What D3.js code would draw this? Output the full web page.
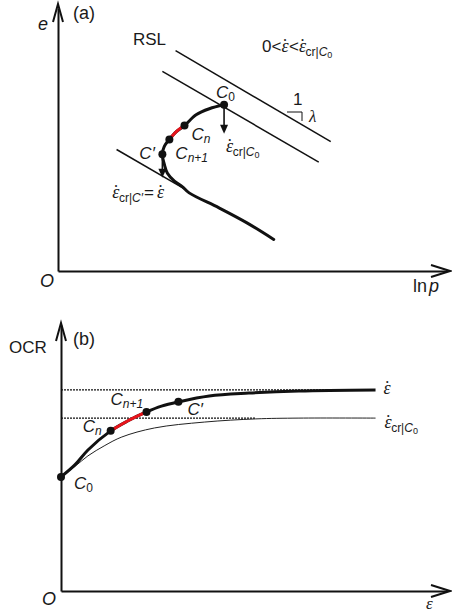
<!DOCTYPE html>
<html>
<head>
<meta charset="utf-8">
<script src="https://cdn.jsdelivr.net/npm/d3@7"></script>
<style>
  html, body { margin: 0; padding: 0; background: #fff; }
  svg { display: block; }
  text { font-family: "Liberation Sans", Arial, sans-serif; fill: #1a1a1a; }
</style>
</head>
<body>
<svg id="chart" width="452" height="614"></svg>
<script>
// ---------- Panel (a): e – ln p plane ----------
// Reference state lines (parallel, slope -λ), as [ln p, e] end points
const rslLines = [
  [[3.03, 8.38], [7.03, 4.92]],
  [[2.69, 7.59], [6.72, 4.14]],
  [[1.51, 4.62], [3.26, 3.12]]
];
// Stress path C0 -> Cn -> Cn+1 -> C' -> further compression
const pathA = [
  [4.28, 6.32], [3.90, 6.17], [3.56, 5.94], [3.26, 5.53],
  [3.05, 5.30], [2.87, 5.00], [2.74, 4.74], [2.69, 4.44],
  [2.74, 4.06], [2.82, 3.72], [3.00, 3.42], [3.21, 3.20],
  [3.38, 2.97], [4.15, 2.40], [4.87, 1.83], [5.56, 1.20]
];
const segRedA = [[3.26, 5.53], [3.05, 5.30], [2.87, 5.00]];
const pointsA = { C0: [4.28, 6.32], Cn: [3.26, 5.53], Cn1: [2.87, 5.00], Cp: [2.69, 4.44] };
// Rate arrows: start and end e values
const arrowsA = [
  { x: 4.28, from: 6.32, to: 5.22 },
  { x: 2.69, from: 4.44, to: 3.55 }
];

// ---------- Panel (b): OCR – ε plane ----------
const ocrRate = 7.56;   // asymptote for applied rate
const ocrCr = 6.50;     // asymptote for critical rate at C0
const ocrRateEnd = 8.17;
const ocrCrDashEnd = 5.06;
const pathB = [
  [0, 4.29], [0.36, 4.74], [0.70, 5.30], [1.29, 6.02], [1.73, 6.39],
  [2.22, 6.73], [2.61, 6.95], [3.05, 7.11], [3.85, 7.33], [4.88, 7.44],
  [6.18, 7.52], [8.17, 7.56]
];
const segRedB = [[1.29, 6.02], [1.73, 6.39], [2.22, 6.73]];
const thinB = [
  [0, 4.29], [0.36, 4.68], [0.70, 5.08], [1.14, 5.47], [1.58, 5.79],
  [2.43, 6.13], [3.72, 6.35], [5.06, 6.47], [6.18, 6.50], [8.17, 6.50]
];
const pointsB = { C0: [0, 4.29], Cn: [1.29, 6.02], Cn1: [2.22, 6.73], Cp: [3.05, 7.11] };

const svg = d3.select("#chart");
const SERIF = "'Liberation Serif', 'DejaVu Serif', serif";

// text with tspans: {t, i (italic), f (family), s (size), dy, dx}
function rich(g, x, y, parts, size = 17, anchor = "start") {
  const t = g.append("text").attr("x", x).attr("y", y)
    .attr("font-size", size).attr("text-anchor", anchor);
  parts.forEach(p => {
    const s = t.append("tspan").text(p.t);
    if (p.i) s.attr("font-style", "italic");
    if (p.f) s.attr("font-family", p.f);
    if (p.s) s.attr("font-size", p.s);
    if (p.dy) s.attr("dy", p.dy);
    if (p.dx) s.attr("dx", p.dx);
  });
  return t;
}
// strain rate symbol: italic epsilon with an overdot
const epsDot = (dx) => [
  { t: "\u03B5", i: true, f: SERIF, s: 18, dx: dx || 0 },
  { t: "\u02D9", f: SERIF, s: 18, dx: -6.5 }
];
const epsCr = () => epsDot().concat([
  { t: "cr|", s: 12, dy: 4 },
  { t: "C", i: true, s: 12 },
  { t: "0", s: 9, dy: 2 },
  { t: "", dy: -6 }
]);

function axesWithArrows(x, y, x0, y0, xTip, yTip) {
  svg.append("g").attr("transform", `translate(0,${y0})`)
    .call(d3.axisBottom(x).tickValues([]).tickSizeOuter(0))
    .call(g => g.select(".domain").attr("stroke", "#111").attr("stroke-width", 2));
  svg.append("g").attr("transform", `translate(${x0},0)`)
    .call(d3.axisLeft(y).tickValues([]).tickSizeOuter(0))
    .call(g => g.select(".domain").attr("stroke", "#111").attr("stroke-width", 2));
  const xr = x.range(), yr = y.range();
  svg.append("line").attr("x1", xr[1]).attr("x2", xTip).attr("y1", y0).attr("y2", y0)
    .attr("stroke", "#111").attr("stroke-width", 2);
  svg.append("line").attr("x1", x0).attr("x2", x0).attr("y1", yr[1]).attr("y2", yTip)
    .attr("stroke", "#111").attr("stroke-width", 2);
  svg.append("path")
    .attr("d", `M${xTip - 19},${y0 - 6} L${xTip},${y0} L${xTip - 19},${y0 + 6}`)
    .attr("fill", "none").attr("stroke", "#111").attr("stroke-width", 2);
  svg.append("path")
    .attr("d", `M${x0 - 5},${yTip + 18} L${x0},${yTip} L${x0 + 5},${yTip + 18}`)
    .attr("fill", "none").attr("stroke", "#111").attr("stroke-width", 2);
}

// ---------- Panel (a) ----------
const xA = d3.scaleLinear([0, 10], [58, 446]);
const yA = d3.scaleLinear([0, 10], [271, 8]);
axesWithArrows(xA, yA, 58, 271, 450, 4);

const lineA = d3.line().x(d => xA(d[0])).y(d => yA(d[1]));
const curveA = d3.line().x(d => xA(d[0])).y(d => yA(d[1])).curve(d3.curveCatmullRom.alpha(0.5));

svg.append("g").selectAll("path").data(rslLines).join("path")
  .attr("d", lineA).attr("fill", "none").attr("stroke", "#111").attr("stroke-width", 1.5);

svg.append("path").attr("d", curveA(pathA)).attr("fill", "none")
  .attr("stroke", "#111").attr("stroke-width", 3).attr("stroke-linecap", "round");
svg.append("path").attr("d", curveA(segRedA)).attr("fill", "none")
  .attr("stroke", "#e8141b").attr("stroke-width", 3);

// rate arrows
arrowsA.forEach(a => {
  const x = xA(a.x), y1 = yA(a.from), y2 = yA(a.to);
  svg.append("line").attr("x1", x).attr("x2", x).attr("y1", y1).attr("y2", y2 - 8)
    .attr("stroke", "#111").attr("stroke-width", 1.6);
  svg.append("path").attr("d", `M${x - 4},${y2 - 9} L${x + 4},${y2 - 9} L${x},${y2} Z`)
    .attr("fill", "#111");
});

svg.append("g").selectAll("circle").data(Object.values(pointsA)).join("circle")
  .attr("cx", d => xA(d[0])).attr("cy", d => yA(d[1])).attr("r", 4).attr("fill", "#111");

// slope marker (1 : λ) on the upper line
svg.append("path").attr("d", "M287,112 L302,112 L302,121").attr("fill", "none")
  .attr("stroke", "#111").attr("stroke-width", 1);

// labels, panel (a)
rich(svg, 48, 30, [{ t: "e", i: true }], 18, "end");
rich(svg, 73, 19, [{ t: "(a)" }], 18);
rich(svg, 47, 287, [{ t: "O", i: true }], 18, "middle");
rich(svg, 413, 292, [{ t: "ln" }, { t: "p", i: true, dx: 2 }], 18);
rich(svg, 133, 45, [{ t: "RSL" }], 17);
rich(svg, 262, 52, [{ t: "0<" }].concat(epsDot(), [{ t: "<", dx: 1 }], epsCr()), 17);
rich(svg, 293, 105, [{ t: "1" }], 17);
rich(svg, 309, 122, [{ t: "\u03BB", i: true, f: SERIF }], 17);

const pA = k => [xA(pointsA[k][0]), yA(pointsA[k][1])];
{
  let [x, y] = pA("C0");
  rich(svg, x - 8, y - 7, [{ t: "C", i: true }, { t: "0", s: 12, dy: 3 }], 17);
  rich(svg, x + 2, y + 47, epsCr(), 17);
  [x, y] = pA("Cn");
  rich(svg, x + 7, y + 14, [{ t: "C", i: true }, { t: "n", i: true, s: 12, dy: 3 }], 17);
  [x, y] = pA("Cn1");
  rich(svg, x + 6, y + 19, [{ t: "C", i: true }, { t: "n+1", i: true, s: 12, dy: 3 }], 17);
  [x, y] = pA("Cp");
  rich(svg, x - 23, y + 5, [{ t: "C\u2032", i: true }], 17);
  rich(svg, x - 50, y + 44, epsDot().concat([
    { t: "cr|", s: 12, dy: 4 },
    { t: "C\u2032", i: true, s: 12 },
    { t: "=", s: 17, dy: -4, dx: 1 }
  ], epsDot(3)), 17);
}

// ---------- Panel (b) ----------
const xB = d3.scaleLinear([0, 10], [61, 446]);
const yB = d3.scaleLinear([0, 10], [591, 325]);
axesWithArrows(xB, yB, 61, 591, 450, 323);

const curveB = d3.line().x(d => xB(d[0])).y(d => yB(d[1])).curve(d3.curveCatmullRom.alpha(0.5));

svg.append("line").attr("x1", xB(0)).attr("x2", xB(ocrRateEnd))
  .attr("y1", yB(ocrRate)).attr("y2", yB(ocrRate))
  .attr("stroke", "#111").attr("stroke-width", 1.4).attr("stroke-dasharray", "2,1");
svg.append("line").attr("x1", xB(0)).attr("x2", xB(ocrCrDashEnd))
  .attr("y1", yB(ocrCr)).attr("y2", yB(ocrCr))
  .attr("stroke", "#111").attr("stroke-width", 1.4).attr("stroke-dasharray", "2,1");

svg.append("path").attr("d", curveB(thinB)).attr("fill", "none")
  .attr("stroke", "#222").attr("stroke-width", 1);
svg.append("path").attr("d", curveB(pathB)).attr("fill", "none")
  .attr("stroke", "#111").attr("stroke-width", 3);
svg.append("path").attr("d", curveB(segRedB)).attr("fill", "none")
  .attr("stroke", "#e8141b").attr("stroke-width", 3);

svg.append("g").selectAll("circle").data(Object.values(pointsB)).join("circle")
  .attr("cx", d => xB(d[0])).attr("cy", d => yB(d[1])).attr("r", 4).attr("fill", "#111");

// labels, panel (b)
rich(svg, 9, 353, [{ t: "OCR" }], 17);
rich(svg, 73, 345, [{ t: "(b)" }], 18);
rich(svg, 49, 605, [{ t: "O", i: true }], 18, "middle");
rich(svg, 426, 609, [{ t: "\u03B5", i: true, f: SERIF }], 17);
rich(svg, xB(ocrRateEnd) + 8, yB(ocrRate) + 4, epsDot(), 17);
rich(svg, xB(ocrRateEnd) + 9, yB(ocrCr) + 10, epsCr(), 17);

const pB = k => [xB(pointsB[k][0]), yB(pointsB[k][1])];
{
  let [x, y] = pB("C0");
  rich(svg, x + 13, y + 12, [{ t: "C", i: true }, { t: "0", s: 12, dy: 3 }], 17);
  [x, y] = pB("Cn");
  rich(svg, x - 28, y + 1, [{ t: "C", i: true }, { t: "n", i: true, s: 12, dy: 3 }], 17);
  [x, y] = pB("Cn1");
  rich(svg, x - 36, y - 7, [{ t: "C", i: true }, { t: "n+1", i: true, s: 12, dy: 3 }], 17);
  [x, y] = pB("Cp");
  rich(svg, x + 9, y + 13, [{ t: "C\u2032", i: true }], 17);
}
</script>
</body>
</html>
